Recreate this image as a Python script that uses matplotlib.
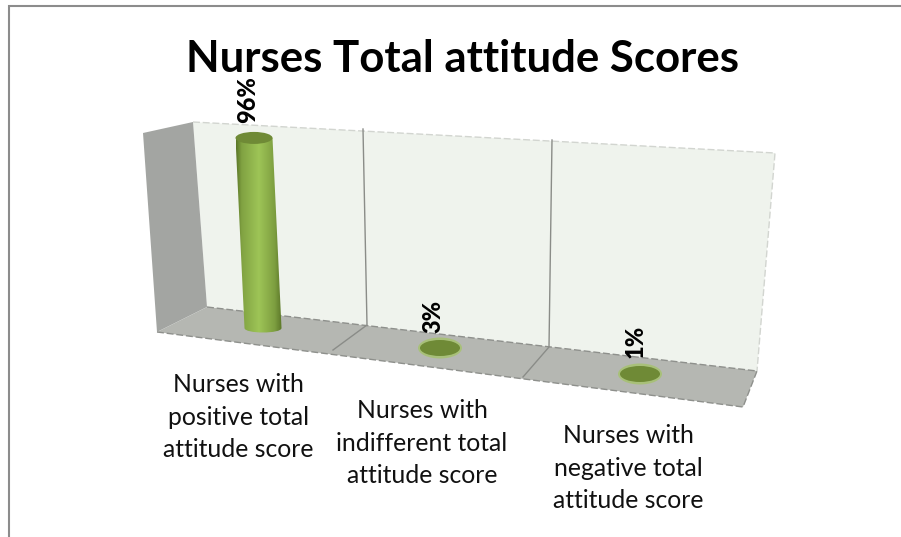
import matplotlib
matplotlib.use("Agg")
import matplotlib.pyplot as plt
import numpy as np
from matplotlib.patches import Polygon, Ellipse, PathPatch
from matplotlib.path import Path

plt.rcParams['font.family'] = ['Lato', 'DejaVu Sans']

title = "Nurses Total attitude Scores"
categories = ["Nurses with\npositive total\nattitude score",
              "Nurses with\nindifferent total\nattitude score",
              "Nurses with\nnegative total\nattitude score"]
values = [96, 3, 1]
labels = ["96%", "3%", "1%"]

# layout, in pixels of the picture
base_x = [263, 440, 640]
base_y = [328, 348, 374]
label_xy = [(248, 123), (433, 333), (635, 358)]
cat_xy = [(238.5, 457), (422, 483), (628, 508)]
px_per_pct = 1.98
lean = -9 / 190

fig = plt.figure(figsize=(9.01, 5.37), dpi=100)
ax = fig.add_axes([0, 0, 1, 1])
ax.set_xlim(0, 901)
ax.set_ylim(537, 0)
ax.axis("off")

# outer border
ax.plot([9, 9, 901], [537, 6, 6], color="#8c8c8c", lw=1.5, solid_joinstyle="miter")

# walls and floor
ax.add_patch(Polygon([(193, 122), (775, 153), (757, 371), (207, 307)], fc="#eff3ed", ec="none"))
ax.plot([193, 775, 757], [122, 153, 371], color="#d2d5d0", lw=1, ls=(0, (5, 2)))
ax.add_patch(Polygon([(143, 133), (193, 122), (207, 307), (157, 332)], fc="#a3a5a2", ec="none"))
ax.add_patch(Polygon([(207, 307), (757, 371), (743, 407), (157, 332)], fc="#b5b7b2", ec="none"))
ax.plot([207, 757], [307, 371], color="#8e908c", lw=1, ls=(0, (5, 2)))
ax.plot([157, 743, 757], [332, 407, 371], color="#8e908c", lw=1, ls=(0, (5, 2)))
ax.plot([363, 367, 333], [129, 325, 350], color="#8a8c88", lw=1)
ax.plot([552, 549, 523], [140, 347, 377], color="#8a8c88", lw=1)

# cylinders
for x, y, v in zip(base_x, base_y, values):
    h = v * px_per_pct
    if v > 10:
        w = 18.5
        top_x = x + lean * h
        top_y = y - h
        verts = [(top_x - w, top_y), (top_x + w, top_y), (x + w, y),
                 (x + w, y + 6), (x - w, y + 6), (x - w, y), (top_x - w, top_y)]
        codes = [Path.MOVETO, Path.LINETO, Path.LINETO, Path.CURVE4, Path.CURVE4, Path.CURVE4, Path.CLOSEPOLY]
        body = PathPatch(Path(verts, codes), fc="none", ec="none")
        ax.add_patch(body)
        shade = np.interp(np.linspace(0, 1, 64), [0, .12, .5, .85, 1], [0, .55, 1, .5, 0])
        c0, c1 = np.array([0.36, 0.47, 0.16]), np.array([0.62, 0.77, 0.34])
        img = c0 + (c1 - c0) * shade[:, None]
        im = ax.imshow(img[None, :, :], extent=(x - w - 9, x + w, y + 8, top_y - 6),
                       aspect="auto", zorder=3)
        im.set_clip_path(body)
        ax.set_xlim(0, 901)
        ax.set_ylim(537, 0)
        ax.add_patch(Ellipse((top_x, top_y), 2 * w, 12, fc="#6f8a36", ec="none", zorder=4))
    else:
        ax.add_patch(Ellipse((x, y), 44, 21, fc="#a5c36b", ec="none", alpha=.8, zorder=3))
        ax.add_patch(Ellipse((x, y), 40, 16, fc="#6f8a36", ec="none", zorder=4))

# value labels
for (x, y), s in zip(label_xy, labels):
    ax.text(x, y, s, rotation=90, ha="center", va="bottom",
            fontsize=17, fontweight="black", color="black", zorder=6)

# category labels, y is the baseline of the last line
for (x, y), s in zip(cat_xy, categories):
    ax.text(x, y, s, ha="center", va="baseline", fontsize=17.8, linespacing=1.49, color="#111111", zorder=6)

ax.text(462, 72, title, ha="center", va="baseline", fontsize=31.5, fontweight="bold", color="black", zorder=6)

fig.savefig("out.png", dpi=100)
